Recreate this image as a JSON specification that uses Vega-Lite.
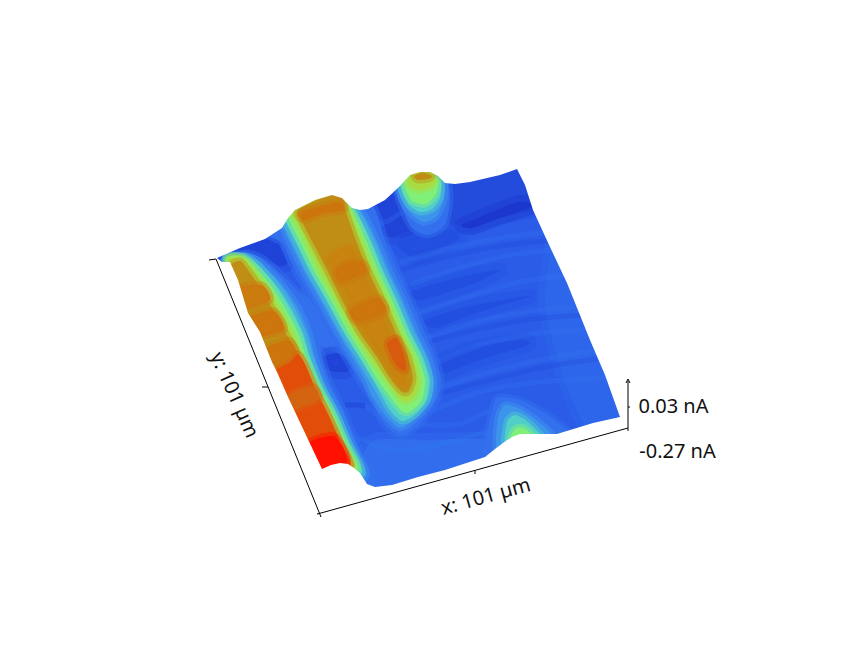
{"$schema":"https://vega.github.io/schema/vega-lite/v6.json","width":843,"height":649,"autosize":{"type":"fit","contains":"padding"},"padding":0,"background":"white","config":{"view":{"stroke":null}},
"datasets":{
"blue":[
{"r":1,"x":210,"y":250,"v":-0.24},{"r":1,"x":270,"y":225,"v":-0.24},{"r":1,"x":300,"y":190,"v":-0.24},{"r":1,"x":400,"y":165,"v":-0.24},{"r":1,"x":530,"y":155,"v":-0.24},{"r":1,"x":640,"y":430,"v":-0.24},{"r":1,"x":480,"y":470,"v":-0.24},{"r":1,"x":370,"y":500,"v":-0.24},{"r":1,"x":310,"y":480,"v":-0.24},
{"r":2,"x":555,"y":235,"v":-0.234},{"r":2,"x":580,"y":283,"v":-0.234},{"r":2,"x":605,"y":340,"v":-0.234},{"r":2,"x":630,"y":420,"v":-0.234},{"r":2,"x":590,"y":430,"v":-0.234},{"r":2,"x":570,"y":395,"v":-0.234},{"r":2,"x":555,"y":350,"v":-0.234},{"r":2,"x":545,"y":300,"v":-0.234},
{"r":3,"x":370,"y":495,"v":-0.23},{"r":3,"x":420,"y":485,"v":-0.23},{"r":3,"x":490,"y":462,"v":-0.23},{"r":3,"x":487,"y":440,"v":-0.23},{"r":3,"x":430,"y":440,"v":-0.23},{"r":3,"x":375,"y":440,"v":-0.23},{"r":3,"x":362,"y":460,"v":-0.23},
{"r":4,"x":288,"y":300,"v":-0.228},{"r":4,"x":308,"y":297,"v":-0.228},{"r":4,"x":330,"y":335,"v":-0.228},{"r":4,"x":345,"y":355,"v":-0.228},{"r":4,"x":330,"y":350,"v":-0.228},{"r":4,"x":315,"y":340,"v":-0.228},
{"r":5,"x":212,"y":258,"v":-0.255},{"r":5,"x":240,"y":246,"v":-0.255},{"r":5,"x":268,"y":236,"v":-0.255},{"r":5,"x":278,"y":236,"v":-0.255},{"r":5,"x":282,"y":250,"v":-0.255},{"r":5,"x":287,"y":264,"v":-0.255},{"r":5,"x":278,"y":266,"v":-0.255},{"r":5,"x":262,"y":258,"v":-0.255},{"r":5,"x":245,"y":252,"v":-0.255},{"r":5,"x":225,"y":260,"v":-0.255},
{"r":6,"x":358,"y":207,"v":-0.255},{"r":6,"x":385,"y":198,"v":-0.255},{"r":6,"x":398,"y":190,"v":-0.255},{"r":6,"x":406,"y":215,"v":-0.255},{"r":6,"x":415,"y":232,"v":-0.255},{"r":6,"x":402,"y":238,"v":-0.255},{"r":6,"x":382,"y":235,"v":-0.255},{"r":6,"x":366,"y":222,"v":-0.255},
{"r":7,"x":445,"y":180,"v":-0.25},{"r":7,"x":470,"y":178,"v":-0.25},{"r":7,"x":500,"y":170,"v":-0.25},{"r":7,"x":520,"y":165,"v":-0.25},{"r":7,"x":530,"y":185,"v":-0.25},{"r":7,"x":536,"y":208,"v":-0.25},{"r":7,"x":520,"y":213,"v":-0.25},{"r":7,"x":490,"y":220,"v":-0.25},{"r":7,"x":465,"y":226,"v":-0.25},{"r":7,"x":448,"y":222,"v":-0.25},
{"r":8,"x":462,"y":225,"v":-0.265},{"r":8,"x":490,"y":213,"v":-0.265},{"r":8,"x":518,"y":202,"v":-0.265},{"r":8,"x":534,"y":206,"v":-0.265},{"r":8,"x":500,"y":218,"v":-0.265},{"r":8,"x":472,"y":228,"v":-0.265},
{"r":9,"x":320,"y":358,"v":-0.255},{"r":9,"x":338,"y":353,"v":-0.255},{"r":9,"x":352,"y":364,"v":-0.255},{"r":9,"x":346,"y":372,"v":-0.255},{"r":9,"x":328,"y":370,"v":-0.255},
{"r":10,"x":438,"y":362,"v":-0.248},{"r":10,"x":470,"y":348,"v":-0.248},{"r":10,"x":520,"y":340,"v":-0.248},{"r":10,"x":528,"y":345,"v":-0.248},{"r":10,"x":480,"y":360,"v":-0.248},{"r":10,"x":442,"y":374,"v":-0.248},
{"r":11,"x":398,"y":242,"v":-0.248},{"r":11,"x":450,"y":230,"v":-0.248},{"r":11,"x":458,"y":240,"v":-0.248},{"r":11,"x":415,"y":258,"v":-0.248},
{"r":12,"x":410,"y":292,"v":-0.248},{"r":12,"x":460,"y":277,"v":-0.248},{"r":12,"x":500,"y":270,"v":-0.248},{"r":12,"x":470,"y":285,"v":-0.248},{"r":12,"x":420,"y":300,"v":-0.248},
{"r":13,"x":425,"y":320,"v":-0.248},{"r":13,"x":470,"y":306,"v":-0.248},{"r":13,"x":530,"y":296,"v":-0.248},{"r":13,"x":480,"y":312,"v":-0.248},{"r":13,"x":435,"y":328,"v":-0.248}
],
"stripes":[
{"s":1,"x":400,"y":262,"v":-0.225},{"s":1,"x":450,"y":248,"v":-0.225},{"s":1,"x":500,"y":238,"v":-0.225},{"s":1,"x":548,"y":232,"v":-0.225},
{"s":2,"x":410,"y":285,"v":-0.225},{"s":2,"x":460,"y":268,"v":-0.225},{"s":2,"x":510,"y":255,"v":-0.225},{"s":2,"x":558,"y":250,"v":-0.225},
{"s":3,"x":415,"y":315,"v":-0.228},{"s":3,"x":465,"y":298,"v":-0.228},{"s":3,"x":520,"y":282,"v":-0.228},{"s":3,"x":570,"y":275,"v":-0.228},
{"s":4,"x":420,"y":340,"v":-0.228},{"s":4,"x":470,"y":323,"v":-0.228},{"s":4,"x":525,"y":312,"v":-0.228},{"s":4,"x":582,"y":306,"v":-0.228},
{"s":5,"x":432,"y":365,"v":-0.228},{"s":5,"x":480,"y":345,"v":-0.228},{"s":5,"x":540,"y":333,"v":-0.228},{"s":5,"x":592,"y":330,"v":-0.228},
{"s":6,"x":440,"y":388,"v":-0.225},{"s":6,"x":490,"y":372,"v":-0.225},{"s":6,"x":550,"y":358,"v":-0.225},{"s":6,"x":602,"y":350,"v":-0.225},
{"s":7,"x":430,"y":412,"v":-0.225},{"s":7,"x":480,"y":392,"v":-0.225},{"s":7,"x":540,"y":382,"v":-0.225},{"s":7,"x":610,"y":378,"v":-0.225},
{"s":8,"x":365,"y":405,"v":-0.225},{"s":8,"x":400,"y":425,"v":-0.225},{"s":8,"x":450,"y":425,"v":-0.225},{"s":8,"x":490,"y":410,"v":-0.225},
{"s":9,"x":352,"y":435,"v":-0.22},{"s":9,"x":400,"y":450,"v":-0.22},{"s":9,"x":450,"y":442,"v":-0.22},{"s":9,"x":490,"y":430,"v":-0.22},
{"s":10,"x":345,"y":405,"v":-0.27},{"s":10,"x":352,"y":405,"v":-0.27},{"s":10,"x":365,"y":406,"v":-0.27},
{"s":11,"x":300,"y":292,"v":-0.25},{"s":11,"x":290,"y":280,"v":-0.25},{"s":11,"x":270,"y":268,"v":-0.25},
{"s":12,"x":360,"y":225,"v":-0.228},{"s":12,"x":385,"y":222,"v":-0.228},{"s":12,"x":402,"y":212,"v":-0.228},
{"s":13,"x":400,"y":270,"v":-0.255},{"s":13,"x":450,"y":256,"v":-0.255},{"s":13,"x":500,"y":246,"v":-0.255},{"s":13,"x":552,"y":240,"v":-0.255},
{"s":14,"x":418,"y":345,"v":-0.255},{"s":14,"x":470,"y":331,"v":-0.255},{"s":14,"x":525,"y":320,"v":-0.255},{"s":14,"x":586,"y":315,"v":-0.255},
{"s":15,"x":435,"y":395,"v":-0.255},{"s":15,"x":490,"y":380,"v":-0.255},{"s":15,"x":550,"y":366,"v":-0.255},{"s":15,"x":606,"y":358,"v":-0.255}
],
"warm":[
{"r":"a1","x":396,"y":187,"v":-0.228},{"r":"a1","x":410,"y":170,"v":-0.228},{"r":"a1","x":430,"y":168,"v":-0.228},{"r":"a1","x":447,"y":180,"v":-0.228},{"r":"a1","x":450,"y":200,"v":-0.228},{"r":"a1","x":445,"y":225,"v":-0.228},{"r":"a1","x":428,"y":235,"v":-0.228},{"r":"a1","x":412,"y":228,"v":-0.228},{"r":"a1","x":402,"y":208,"v":-0.228},
{"r":"a2","x":398,"y":186,"v":-0.2},{"r":"a2","x":411,"y":171,"v":-0.2},{"r":"a2","x":430,"y":170,"v":-0.2},{"r":"a2","x":444,"y":182,"v":-0.2},{"r":"a2","x":444,"y":200,"v":-0.2},{"r":"a2","x":436,"y":217,"v":-0.2},{"r":"a2","x":423,"y":222,"v":-0.2},{"r":"a2","x":410,"y":213,"v":-0.2},{"r":"a2","x":402,"y":200,"v":-0.2},
{"r":"a3","x":401,"y":186,"v":-0.175},{"r":"a3","x":412,"y":172,"v":-0.175},{"r":"a3","x":429,"y":171,"v":-0.175},{"r":"a3","x":441,"y":182,"v":-0.175},{"r":"a3","x":440,"y":198,"v":-0.175},{"r":"a3","x":432,"y":209,"v":-0.175},{"r":"a3","x":420,"y":212,"v":-0.175},{"r":"a3","x":408,"y":204,"v":-0.175},
{"r":"a4","x":404,"y":184,"v":-0.15},{"r":"a4","x":414,"y":172,"v":-0.15},{"r":"a4","x":429,"y":172,"v":-0.15},{"r":"a4","x":438,"y":181,"v":-0.15},{"r":"a4","x":436,"y":194,"v":-0.15},{"r":"a4","x":426,"y":204,"v":-0.15},{"r":"a4","x":412,"y":201,"v":-0.15},
{"r":"a5","x":407,"y":181,"v":-0.125},{"r":"a5","x":416,"y":172,"v":-0.125},{"r":"a5","x":429,"y":172,"v":-0.125},{"r":"a5","x":436,"y":180,"v":-0.125},{"r":"a5","x":431,"y":187,"v":-0.125},{"r":"a5","x":420,"y":190,"v":-0.125},{"r":"a5","x":411,"y":187,"v":-0.125},
{"r":"a6","x":414,"y":176,"v":-0.095},{"r":"a6","x":423,"y":173,"v":-0.095},{"r":"a6","x":432,"y":176,"v":-0.095},{"r":"a6","x":428,"y":179,"v":-0.095},{"r":"a6","x":418,"y":180,"v":-0.095},

{"r":"b1","x":485,"y":455,"v":-0.228},{"r":"b1","x":490,"y":420,"v":-0.228},{"r":"b1","x":497,"y":398,"v":-0.228},{"r":"b1","x":520,"y":400,"v":-0.228},{"r":"b1","x":548,"y":415,"v":-0.228},{"r":"b1","x":570,"y":436,"v":-0.228},{"r":"b1","x":520,"y":445,"v":-0.228},
{"r":"b2","x":497,"y":452,"v":-0.2},{"r":"b2","x":498,"y":418,"v":-0.2},{"r":"b2","x":505,"y":405,"v":-0.2},{"r":"b2","x":520,"y":409,"v":-0.2},{"r":"b2","x":540,"y":423,"v":-0.2},{"r":"b2","x":555,"y":440,"v":-0.2},{"r":"b2","x":520,"y":445,"v":-0.2},
{"r":"b3","x":505,"y":446,"v":-0.175},{"r":"b3","x":507,"y":422,"v":-0.175},{"r":"b3","x":515,"y":415,"v":-0.175},{"r":"b3","x":528,"y":422,"v":-0.175},{"r":"b3","x":544,"y":440,"v":-0.175},{"r":"b3","x":520,"y":442,"v":-0.175},
{"r":"b4","x":510,"y":440,"v":-0.15},{"r":"b4","x":515,"y":429,"v":-0.15},{"r":"b4","x":524,"y":428,"v":-0.15},{"r":"b4","x":534,"y":438,"v":-0.15},{"r":"b4","x":520,"y":440,"v":-0.15},

{"r":"c1","x":265,"y":232,"v":-0.228},{"r":"c1","x":285,"y":205,"v":-0.228},{"r":"c1","x":335,"y":188,"v":-0.228},{"r":"c1","x":372,"y":205,"v":-0.228},{"r":"c1","x":386,"y":243,"v":-0.228},{"r":"c1","x":397,"y":270,"v":-0.228},{"r":"c1","x":411,"y":300,"v":-0.228},{"r":"c1","x":425,"y":333,"v":-0.228},{"r":"c1","x":435,"y":357,"v":-0.228},{"r":"c1","x":441,"y":380,"v":-0.228},{"r":"c1","x":437,"y":400,"v":-0.228},{"r":"c1","x":420,"y":424,"v":-0.228},{"r":"c1","x":400,"y":436,"v":-0.228},{"r":"c1","x":383,"y":423,"v":-0.228},{"r":"c1","x":372,"y":400,"v":-0.228},{"r":"c1","x":359,"y":380,"v":-0.228},{"r":"c1","x":345,"y":357,"v":-0.228},{"r":"c1","x":330,"y":333,"v":-0.228},{"r":"c1","x":312,"y":300,"v":-0.228},{"r":"c1","x":295,"y":270,"v":-0.228},{"r":"c1","x":282,"y":243,"v":-0.228},
{"r":"c2","x":280,"y":218,"v":-0.2},{"r":"c2","x":293,"y":203,"v":-0.2},{"r":"c2","x":335,"y":190,"v":-0.2},{"r":"c2","x":362,"y":212,"v":-0.2},{"r":"c2","x":378,"y":243,"v":-0.2},{"r":"c2","x":389,"y":270,"v":-0.2},{"r":"c2","x":403,"y":300,"v":-0.2},{"r":"c2","x":417,"y":333,"v":-0.2},{"r":"c2","x":428,"y":357,"v":-0.2},{"r":"c2","x":434,"y":380,"v":-0.2},{"r":"c2","x":431,"y":400,"v":-0.2},{"r":"c2","x":416,"y":418,"v":-0.2},{"r":"c2","x":400,"y":428,"v":-0.2},{"r":"c2","x":385,"y":415,"v":-0.2},{"r":"c2","x":372,"y":396,"v":-0.2},{"r":"c2","x":365,"y":380,"v":-0.2},{"r":"c2","x":352,"y":357,"v":-0.2},{"r":"c2","x":338,"y":333,"v":-0.2},{"r":"c2","x":320,"y":300,"v":-0.2},{"r":"c2","x":303,"y":270,"v":-0.2},{"r":"c2","x":290,"y":243,"v":-0.2},
{"r":"c3","x":284,"y":216,"v":-0.175},{"r":"c3","x":294,"y":205,"v":-0.175},{"r":"c3","x":335,"y":191,"v":-0.175},{"r":"c3","x":356,"y":212,"v":-0.175},{"r":"c3","x":372,"y":243,"v":-0.175},{"r":"c3","x":383,"y":270,"v":-0.175},{"r":"c3","x":397,"y":300,"v":-0.175},{"r":"c3","x":411,"y":333,"v":-0.175},{"r":"c3","x":423,"y":357,"v":-0.175},{"r":"c3","x":430,"y":380,"v":-0.175},{"r":"c3","x":427,"y":400,"v":-0.175},{"r":"c3","x":415,"y":415,"v":-0.175},{"r":"c3","x":402,"y":421,"v":-0.175},{"r":"c3","x":390,"y":410,"v":-0.175},{"r":"c3","x":373,"y":380,"v":-0.175},{"r":"c3","x":359,"y":357,"v":-0.175},{"r":"c3","x":344,"y":333,"v":-0.175},{"r":"c3","x":326,"y":300,"v":-0.175},{"r":"c3","x":309,"y":270,"v":-0.175},{"r":"c3","x":296,"y":243,"v":-0.175},
{"r":"c4","x":288,"y":216,"v":-0.15},{"r":"c4","x":296,"y":206,"v":-0.15},{"r":"c4","x":335,"y":192,"v":-0.15},{"r":"c4","x":352,"y":210,"v":-0.15},{"r":"c4","x":367,"y":243,"v":-0.15},{"r":"c4","x":378,"y":270,"v":-0.15},{"r":"c4","x":392,"y":300,"v":-0.15},{"r":"c4","x":406,"y":333,"v":-0.15},{"r":"c4","x":418,"y":357,"v":-0.15},{"r":"c4","x":425,"y":380,"v":-0.15},{"r":"c4","x":422,"y":400,"v":-0.15},{"r":"c4","x":411,"y":411,"v":-0.15},{"r":"c4","x":403,"y":412,"v":-0.15},{"r":"c4","x":394,"y":402,"v":-0.15},{"r":"c4","x":378,"y":380,"v":-0.15},{"r":"c4","x":364,"y":357,"v":-0.15},{"r":"c4","x":349,"y":333,"v":-0.15},{"r":"c4","x":331,"y":300,"v":-0.15},{"r":"c4","x":314,"y":270,"v":-0.15},{"r":"c4","x":301,"y":243,"v":-0.15},
{"r":"c5","x":293,"y":212,"v":-0.125},{"r":"c5","x":332,"y":193,"v":-0.125},{"r":"c5","x":342,"y":196,"v":-0.125},{"r":"c5","x":348,"y":208,"v":-0.125},{"r":"c5","x":362,"y":243,"v":-0.125},{"r":"c5","x":373,"y":270,"v":-0.125},{"r":"c5","x":387,"y":300,"v":-0.125},{"r":"c5","x":401,"y":333,"v":-0.125},{"r":"c5","x":413,"y":357,"v":-0.125},{"r":"c5","x":419,"y":380,"v":-0.125},{"r":"c5","x":415,"y":396,"v":-0.125},{"r":"c5","x":405,"y":402,"v":-0.125},{"r":"c5","x":398,"y":396,"v":-0.125},{"r":"c5","x":385,"y":378,"v":-0.125},{"r":"c5","x":370,"y":357,"v":-0.125},{"r":"c5","x":355,"y":333,"v":-0.125},{"r":"c5","x":337,"y":300,"v":-0.125},{"r":"c5","x":320,"y":270,"v":-0.125},{"r":"c5","x":307,"y":243,"v":-0.125},{"r":"c5","x":297,"y":222,"v":-0.125},
{"r":"c6","x":298,"y":210,"v":-0.095},{"r":"c6","x":332,"y":194,"v":-0.095},{"r":"c6","x":343,"y":198,"v":-0.095},{"r":"c6","x":346,"y":212,"v":-0.095},{"r":"c6","x":357,"y":243,"v":-0.095},{"r":"c6","x":368,"y":270,"v":-0.095},{"r":"c6","x":382,"y":300,"v":-0.095},{"r":"c6","x":396,"y":333,"v":-0.095},{"r":"c6","x":408,"y":357,"v":-0.095},{"r":"c6","x":413,"y":378,"v":-0.095},{"r":"c6","x":409,"y":391,"v":-0.095},{"r":"c6","x":402,"y":392,"v":-0.095},{"r":"c6","x":390,"y":378,"v":-0.095},{"r":"c6","x":377,"y":357,"v":-0.095},{"r":"c6","x":360,"y":333,"v":-0.095},{"r":"c6","x":342,"y":300,"v":-0.095},{"r":"c6","x":327,"y":270,"v":-0.095},{"r":"c6","x":313,"y":243,"v":-0.095},{"r":"c6","x":302,"y":222,"v":-0.095},
{"r":"c7","x":302,"y":212,"v":-0.06},{"r":"c7","x":338,"y":202,"v":-0.06},{"r":"c7","x":344,"y":210,"v":-0.06},{"r":"c7","x":322,"y":214,"v":-0.06},{"r":"c7","x":304,"y":220,"v":-0.06},
{"r":"c8","x":328,"y":258,"v":-0.075},{"r":"c8","x":350,"y":246,"v":-0.075},{"r":"c8","x":362,"y":270,"v":-0.075},{"r":"c8","x":378,"y":305,"v":-0.075},{"r":"c8","x":393,"y":340,"v":-0.075},{"r":"c8","x":405,"y":370,"v":-0.075},{"r":"c8","x":406,"y":385,"v":-0.075},{"r":"c8","x":398,"y":383,"v":-0.075},{"r":"c8","x":384,"y":360,"v":-0.075},{"r":"c8","x":366,"y":333,"v":-0.075},{"r":"c8","x":349,"y":300,"v":-0.075},{"r":"c8","x":337,"y":275,"v":-0.075},
{"r":"c9","x":387,"y":343,"v":-0.03},{"r":"c9","x":397,"y":338,"v":-0.03},{"r":"c9","x":404,"y":355,"v":-0.03},{"r":"c9","x":406,"y":370,"v":-0.03},{"r":"c9","x":399,"y":368,"v":-0.03},{"r":"c9","x":392,"y":358,"v":-0.03},
{"r":"c10","x":336,"y":270,"v":-0.06},{"r":"c10","x":350,"y":262,"v":-0.06},{"r":"c10","x":362,"y":262,"v":-0.06},{"r":"c10","x":366,"y":272,"v":-0.06},{"r":"c10","x":340,"y":282,"v":-0.06},
{"r":"c12","x":350,"y":310,"v":-0.06},{"r":"c12","x":378,"y":298,"v":-0.06},{"r":"c12","x":386,"y":312,"v":-0.06},{"r":"c12","x":358,"y":322,"v":-0.06},

{"r":"d1","x":222,"y":262,"v":-0.228},{"r":"d1","x":245,"y":253,"v":-0.228},{"r":"d1","x":262,"y":258,"v":-0.228},{"r":"d1","x":285,"y":278,"v":-0.228},{"r":"d1","x":305,"y":300,"v":-0.228},{"r":"d1","x":318,"y":333,"v":-0.228},{"r":"d1","x":322,"y":357,"v":-0.228},{"r":"d1","x":332,"y":387,"v":-0.228},{"r":"d1","x":345,"y":413,"v":-0.228},{"r":"d1","x":357,"y":443,"v":-0.228},{"r":"d1","x":372,"y":475,"v":-0.228},{"r":"d1","x":367,"y":495,"v":-0.228},{"r":"d1","x":330,"y":490,"v":-0.228},{"r":"d1","x":290,"y":410,"v":-0.228},{"r":"d1","x":245,"y":310,"v":-0.228},
{"r":"d2","x":224,"y":261,"v":-0.2},{"r":"d2","x":243,"y":255,"v":-0.2},{"r":"d2","x":258,"y":261,"v":-0.2},{"r":"d2","x":280,"y":282,"v":-0.2},{"r":"d2","x":297,"y":306,"v":-0.2},{"r":"d2","x":309,"y":333,"v":-0.2},{"r":"d2","x":315,"y":357,"v":-0.2},{"r":"d2","x":326,"y":387,"v":-0.2},{"r":"d2","x":340,"y":413,"v":-0.2},{"r":"d2","x":352,"y":443,"v":-0.2},{"r":"d2","x":366,"y":476,"v":-0.2},{"r":"d2","x":330,"y":488,"v":-0.2},{"r":"d2","x":290,"y":410,"v":-0.2},{"r":"d2","x":245,"y":310,"v":-0.2},
{"r":"d3","x":225,"y":260,"v":-0.175},{"r":"d3","x":243,"y":256,"v":-0.175},{"r":"d3","x":257,"y":264,"v":-0.175},{"r":"d3","x":276,"y":285,"v":-0.175},{"r":"d3","x":291,"y":308,"v":-0.175},{"r":"d3","x":303,"y":333,"v":-0.175},{"r":"d3","x":310,"y":357,"v":-0.175},{"r":"d3","x":322,"y":387,"v":-0.175},{"r":"d3","x":336,"y":413,"v":-0.175},{"r":"d3","x":349,"y":443,"v":-0.175},{"r":"d3","x":362,"y":473,"v":-0.175},{"r":"d3","x":330,"y":486,"v":-0.175},{"r":"d3","x":290,"y":410,"v":-0.175},{"r":"d3","x":245,"y":310,"v":-0.175},
{"r":"d4","x":226,"y":260,"v":-0.15},{"r":"d4","x":243,"y":257,"v":-0.15},{"r":"d4","x":255,"y":267,"v":-0.15},{"r":"d4","x":272,"y":287,"v":-0.15},{"r":"d4","x":286,"y":310,"v":-0.15},{"r":"d4","x":298,"y":333,"v":-0.15},{"r":"d4","x":306,"y":357,"v":-0.15},{"r":"d4","x":319,"y":387,"v":-0.15},{"r":"d4","x":333,"y":413,"v":-0.15},{"r":"d4","x":346,"y":443,"v":-0.15},{"r":"d4","x":358,"y":470,"v":-0.15},{"r":"d4","x":330,"y":484,"v":-0.15},{"r":"d4","x":290,"y":410,"v":-0.15},{"r":"d4","x":245,"y":310,"v":-0.15},
{"r":"d5","x":228,"y":261,"v":-0.125},{"r":"d5","x":242,"y":258,"v":-0.125},{"r":"d5","x":252,"y":268,"v":-0.125},{"r":"d5","x":268,"y":290,"v":-0.125},{"r":"d5","x":281,"y":312,"v":-0.125},{"r":"d5","x":293,"y":335,"v":-0.125},{"r":"d5","x":302,"y":358,"v":-0.125},{"r":"d5","x":315,"y":388,"v":-0.125},{"r":"d5","x":329,"y":414,"v":-0.125},{"r":"d5","x":342,"y":444,"v":-0.125},{"r":"d5","x":354,"y":468,"v":-0.125},{"r":"d5","x":330,"y":482,"v":-0.125},{"r":"d5","x":290,"y":410,"v":-0.125},{"r":"d5","x":245,"y":310,"v":-0.125},
{"r":"d6","x":230,"y":266,"v":-0.095},{"r":"d6","x":240,"y":261,"v":-0.095},{"r":"d6","x":248,"y":270,"v":-0.095},{"r":"d6","x":263,"y":292,"v":-0.095},{"r":"d6","x":276,"y":315,"v":-0.095},{"r":"d6","x":288,"y":337,"v":-0.095},{"r":"d6","x":297,"y":352,"v":-0.095},{"r":"d6","x":290,"y":362,"v":-0.095},{"r":"d6","x":272,"y":378,"v":-0.095},{"r":"d6","x":250,"y":330,"v":-0.095},{"r":"d6","x":232,"y":290,"v":-0.095},
{"r":"d7","x":238,"y":288,"v":-0.065},{"r":"d7","x":262,"y":285,"v":-0.065},{"r":"d7","x":270,"y":300,"v":-0.065},{"r":"d7","x":244,"y":308,"v":-0.065},
{"r":"d8","x":248,"y":318,"v":-0.06},{"r":"d8","x":274,"y":311,"v":-0.06},{"r":"d8","x":284,"y":330,"v":-0.06},{"r":"d8","x":258,"y":336,"v":-0.06},
{"r":"d9","x":264,"y":350,"v":-0.06},{"r":"d9","x":288,"y":340,"v":-0.06},{"r":"d9","x":295,"y":352,"v":-0.06},{"r":"d9","x":275,"y":365,"v":-0.06},
{"r":"e1","x":272,"y":376,"v":-0.02},{"r":"e1","x":290,"y":362,"v":-0.02},{"r":"e1","x":298,"y":354,"v":-0.02},{"r":"e1","x":305,"y":364,"v":-0.02},{"r":"e1","x":316,"y":390,"v":-0.02},{"r":"e1","x":328,"y":414,"v":-0.02},{"r":"e1","x":340,"y":441,"v":-0.02},{"r":"e1","x":351,"y":466,"v":-0.02},{"r":"e1","x":330,"y":480,"v":-0.02},{"r":"e1","x":295,"y":420,"v":-0.02},
{"r":"e2","x":285,"y":397,"v":-0.04},{"r":"e2","x":312,"y":386,"v":-0.04},{"r":"e2","x":319,"y":400,"v":-0.04},{"r":"e2","x":292,"y":409,"v":-0.04},
{"r":"e3","x":318,"y":474,"v":0.03},{"r":"e3","x":306,"y":445,"v":0.03},{"r":"e3","x":334,"y":436,"v":0.03},{"r":"e3","x":347,"y":462,"v":0.03}
],
"mask":[
{"x":0,"y":258},{"x":0,"y":0},{"x":843,"y":0},{"x":843,"y":649},{"x":0,"y":649},{"x":0,"y":258},
{"x":217,"y":258},{"x":222,"y":262},{"x":230,"y":262},{"x":238,"y":280},{"x":248,"y":313},{"x":260,"y":332},{"x":272,"y":362},{"x":277,"y":372},{"x":288,"y":397},{"x":305,"y":433},{"x":322,"y":469},{"x":331,"y":465},{"x":340,"y":463},{"x":348,"y":464},{"x":354,"y":468},{"x":360,"y":473},{"x":367,"y":484},{"x":375,"y":487},{"x":392,"y":485},{"x":418,"y":477},{"x":445,"y":470},{"x":485,"y":457},{"x":495,"y":449},{"x":503,"y":443},{"x":512,"y":437},{"x":520,"y":434},{"x":537,"y":434},{"x":557,"y":434},{"x":593,"y":423},{"x":620,"y":417},{"x":605,"y":375},{"x":590,"y":340},{"x":567,"y":283},{"x":550,"y":247},{"x":533,"y":210},{"x":525,"y":185},{"x":517,"y":169},{"x":500,"y":175},{"x":470,"y":182},{"x":455,"y":184},{"x":445,"y":183},{"x":438,"y":176},{"x":430,"y":172},{"x":420,"y":172},{"x":410,"y":175},{"x":400,"y":186},{"x":385,"y":200},{"x":368,"y":209},{"x":360,"y":210},{"x":352,"y":208},{"x":342,"y":198},{"x":332,"y":195},{"x":315,"y":200},{"x":295,"y":210},{"x":288,"y":218},{"x":282,"y":228},{"x":265,"y":239},{"x":240,"y":248},{"x":217,"y":258}
],
"axes":[
{"a":1,"x":209,"y":260},{"a":1,"x":216,"y":259},{"a":1,"x":321,"y":517},
{"a":2,"x":317,"y":514},{"a":2,"x":321,"y":513},{"a":2,"x":628,"y":428},
{"a":3,"x":628,"y":431},{"a":3,"x":628,"y":381},
{"a":4,"x":626,"y":383},{"a":4,"x":628,"y":379},{"a":4,"x":630,"y":383},
{"a":5,"x":262,"y":387},{"a":5,"x":268,"y":387},
{"a":6,"x":475,"y":471},{"a":6,"x":475,"y":474},
{"a":7,"x":628,"y":407},{"a":7,"x":630,"y":407}
],
"labels":[
{"t":"y: 101 µm","x":234,"y":395,"a":66},
{"t":"x: 101 µm","x":486,"y":497,"a":-15.5},
{"t":"0.03 nA","x":673.5,"y":407,"a":0},
{"t":"-0.27 nA","x":677.5,"y":452,"a":0}
]},
"encoding":{"x":{"field":"x","type":"quantitative","axis":null,"scale":{"domain":[0,843],"nice":false,"zero":false}},"y":{"field":"y","type":"quantitative","axis":null,"scale":{"domain":[649,0],"nice":false,"zero":false}}},
"layer":[
{"data":{"name":"blue"},"mark":{"type":"line","interpolate":"cardinal-closed","tension":0.3,"strokeWidth":14,"strokeOpacity":0.4},"encoding":{"detail":{"field":"r"},"order":{"value":null},"fill":{"field":"v","type":"quantitative","legend":null,"scale":{"domain":[-0.27,-0.255,-0.24,-0.228,-0.2,-0.175,-0.15,-0.125,-0.095,-0.07,-0.05,-0.03,-0.01,0.03],"range":["#1830c8","#2044d8","#2a5ce8","#3470ee","#3c94ec","#50d0c8","#80f078","#a8dc40","#c08e14","#ca8010","#d06c10","#d85c10","#ec3c08","#ff1000"]}},"stroke":{"field":"v","type":"quantitative","legend":null,"scale":{"domain":[-0.27,-0.255,-0.24,-0.228,-0.2,-0.175,-0.15,-0.125,-0.095,-0.07,-0.05,-0.03,-0.01,0.03],"range":["#1830c8","#2044d8","#2a5ce8","#3470ee","#3c94ec","#50d0c8","#80f078","#a8dc40","#c08e14","#ca8010","#d06c10","#d85c10","#ec3c08","#ff1000"]}}}},
{"data":{"name":"stripes"},"mark":{"type":"line","interpolate":"monotone","strokeWidth":5,"strokeOpacity":0.3},"encoding":{"detail":{"field":"s"},"order":{"value":null},"stroke":{"field":"v","type":"quantitative","legend":null}}},
{"data":{"name":"warm"},"mark":{"type":"line","interpolate":"cardinal-closed","tension":0.3,"strokeWidth":7,"strokeOpacity":0.45},"encoding":{"detail":{"field":"r"},"order":{"value":null},"fill":{"field":"v","type":"quantitative","legend":null},"stroke":{"field":"v","type":"quantitative","legend":null}}},
{"data":{"name":"mask"},"mark":{"type":"line","interpolate":"linear-closed","fill":"white","stroke":"white","strokeWidth":0},"encoding":{"order":{"value":null}}},
{"data":{"name":"axes"},"mark":{"type":"line","color":"black","strokeWidth":1},"encoding":{"detail":{"field":"a"},"order":{"value":null}}},
{"data":{"name":"labels"},"mark":{"type":"text","font":"Noto Sans","fontSize":20,"color":"#111111","align":"center","baseline":"middle"},"encoding":{"text":{"field":"t"},"angle":{"field":"a","type":"quantitative","scale":null}}}
]}
